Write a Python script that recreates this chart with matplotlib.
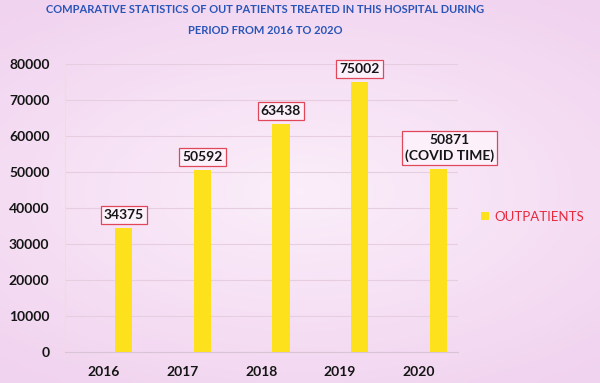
import matplotlib.pyplot as plt
import numpy as np

years = ["2016", "2017", "2018", "2019", "2020"]
outpatients = [34375, 50592, 63438, 75002, 50871]
bar_labels = ["34375", "50592", "63438", "75002", "50871\n(COVID TIME)"]
yticks = [0, 10000, 20000, 30000, 40000, 50000, 60000, 70000, 80000]

plt.rcParams["font.family"] = ["Lato", "DejaVu Sans"]

bg = "#f7e5f5"
fig = plt.figure(figsize=(6.0, 3.83), dpi=100, facecolor=bg)

# soft pink paper background, lighter in the middle
bgax = fig.add_axes([0, 0, 1, 1], zorder=-10)
gx, gy = np.meshgrid(np.linspace(-1, 1, 120), np.linspace(-1, 1, 80))
r = np.clip(np.sqrt((gx * 0.8) ** 2 + gy ** 2), 0, 1.2)
light = np.array([0.985, 0.935, 0.98])
pink = np.array([0.945, 0.83, 0.94])
img = light + (pink - light) * (r[..., None] / 1.2)
bgax.imshow(img, aspect="auto", extent=[0, 1, 0, 1], interpolation="bicubic")
bgax.axis("off")

ax = fig.add_axes([0.108, 0.081, 0.655, 0.752])
ax.set_facecolor("none")

x = np.arange(len(years))
ax.bar(x + 0.25, outpatients, width=0.22, color="#fce11c", zorder=3)

for xi, v, lab in zip(x, outpatients, bar_labels):
    dx = 8 if "\n" in lab else 0
    ax.annotate(lab, (xi + 0.25, v), xytext=(dx, 5), textcoords="offset points",
                ha="center", va="bottom", fontsize=10, fontweight="bold", color="#151515",
                linespacing=1.3, zorder=4,
                bbox=dict(boxstyle="square,pad=0.22", fc="#fcf1fb", ec="#e0485a", lw=0.9))

ax.set_xlim(-0.5, 4.5)
ax.set_ylim(0, 80000)
ax.set_xticks(x)
ax.set_xticklabels(years)
ax.set_yticks(yticks)
ax.tick_params(axis="both", length=0, labelsize=10, labelcolor="#151515")
ax.tick_params(axis="x", pad=10)
ax.tick_params(axis="y", pad=11)
for lab in ax.get_xticklabels() + ax.get_yticklabels():
    lab.set_fontweight("bold")

ax.grid(axis="y", color="#e6cde0", linewidth=0.8, zorder=0)
ax.set_axisbelow(True)
for s in ["top", "right"]:
    ax.spines[s].set_visible(False)
ax.spines["left"].set_color("#f3e2b8")
ax.spines["bottom"].set_color("#d8c4d4")

ax.bar([0], [0], width=0, color="#fce11c", label="OUTPATIENTS")
leg = ax.legend(loc="center left", bbox_to_anchor=(1.03, 0.47), frameon=False,
                handlelength=0.6, handleheight=0.6, handletextpad=0.4, fontsize=9.5)
for t in leg.get_texts():
    t.set_color("#e8283c")

fig.text(0.442, 0.975, "COMPARATIVE STATISTICS OF OUT PATIENTS TREATED IN THIS HOSPITAL DURING",
         ha="center", va="center", fontsize=8.0, fontweight="bold", color="#2a55b8")
fig.text(0.442, 0.920, "PERIOD FROM 2016 TO 202O", ha="center", va="center",
         fontsize=8.0, fontweight="bold", color="#2a55b8")

fig.savefig("out.png", dpi=100, facecolor=bg)
